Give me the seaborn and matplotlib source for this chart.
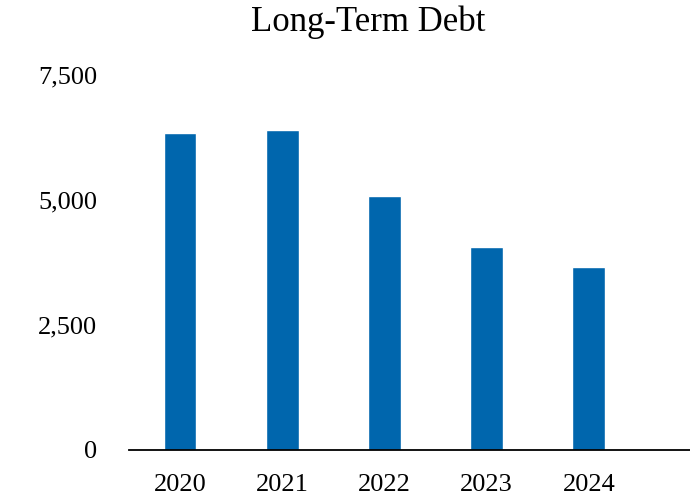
import seaborn as sns
import pandas as pd
from matplotlib import pyplot as plt
from matplotlib.ticker import FuncFormatter

years = ['2020', '2021', '2022', '2023', '2024']
debt = [6340, 6400, 5080, 4060, 3660]

sns.set_style('white')
plt.rcParams['font.family'] = ['Liberation Serif', 'DejaVu Serif']
plt.rcParams['text.color'] = 'black'
plt.rcParams['xtick.color'] = 'black'
plt.rcParams['ytick.color'] = 'black'

df = pd.DataFrame({'year': years, 'debt': debt})

fig = plt.figure(figsize=(6.9, 4.97), dpi=100)
ax = fig.add_axes([129 / 690, 1 - 450 / 497, 1 - 129 / 690, (450 - 75) / 497])
sns.barplot(data=df, x='year', y='debt', color='#0066AD', saturation=1,
            width=0.32, ax=ax)

ax.set_ylim(0, 7500)
ax.set_xlim(-0.5, 4.99)
ax.set_yticks([0, 2500, 5000, 7500])
ax.yaxis.set_major_formatter(FuncFormatter(lambda v, p: f'{int(v):,}'))
ax.set_xlabel('')
ax.set_ylabel('')
for s in ['top', 'right', 'left']:
    ax.spines[s].set_visible(False)
ax.spines['bottom'].set_color('black')
ax.spines['bottom'].set_linewidth(1.3)
ax.tick_params(axis='y', length=0, pad=23, labelsize=19, labelcolor='black')
ax.tick_params(axis='x', length=0, pad=17, labelsize=19, labelcolor='black')

fig.text(368 / 690, 1 - 22 / 497, 'Long-Term Debt', ha='center', va='center',
         fontsize=25, color='black')

fig.savefig('out.png', dpi=100)
